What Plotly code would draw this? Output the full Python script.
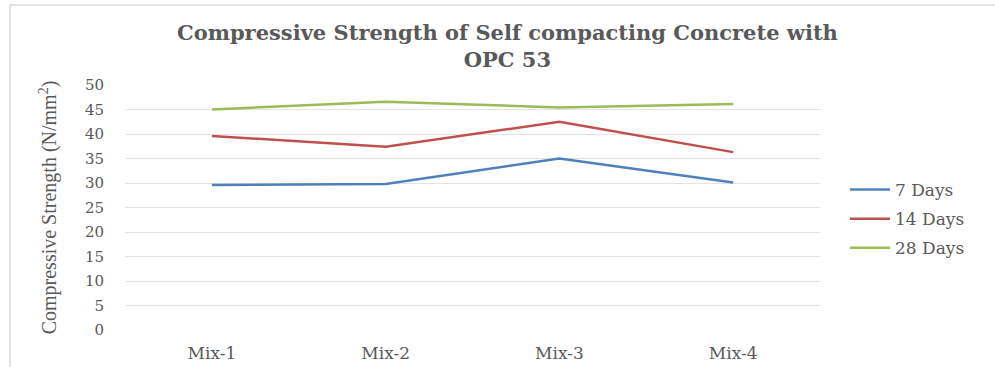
import plotly.graph_objects as go

categories = ["Mix-1", "Mix-2", "Mix-3", "Mix-4"]
days7 = [29.6, 29.8, 35.0, 30.1]
days14 = [39.6, 37.4, 42.5, 36.3]
days28 = [45.0, 46.6, 45.4, 46.1]
series_names = ["7 Days", "14 Days", "28 Days"]
colors = ["#4f81bd", "#c0504d", "#9bbb59"]
y_ticks = [0, 5, 10, 15, 20, 25, 30, 35, 40, 45, 50]

WIDE = "DejaVu Serif, Liberation Serif, serif"
NARROW = "Liberation Serif, Times New Roman, serif"

fig = go.Figure()
for name, vals, col in zip(series_names, [days7, days14, days28], colors):
    fig.add_trace(go.Scatter(
        x=categories, y=vals, mode="lines", name=name, legendgroup=name,
        line=dict(color=col, width=2.5),
    ))

W, H = 995, 367
L, R, T, B = 125, 820, 85, 330
pw, ph = R - L, B - T

def px(x):
    return (x - L) / pw

def py(y):
    return (B - y) / ph

fig.update_layout(
    width=W, height=H,
    margin=dict(l=L, r=W - R, t=T, b=H - B, autoexpand=False),
    paper_bgcolor="white", plot_bgcolor="white",
    font=dict(family=WIDE, color="#595959"),
    title=dict(
        text="<b>Compressive Strength of Self compacting Concrete with<br>OPC 53</b>",
        x=0.51, xanchor="center", xref="container", y=1 - 40 / H, yanchor="middle",
        font=dict(family=WIDE, size=21, color="#595959"),
    ),
    xaxis=dict(
        type="category", range=[-0.5, 3.5], showgrid=False, zeroline=False,
        showline=False, ticks="", tickfont=dict(family=WIDE, size=17, color="#595959"),
        ticklabelstandoff=11,
    ),
    yaxis=dict(
        range=[0, 50], tickvals=y_ticks, showgrid=True, gridcolor="#e3e3e3",
        gridwidth=1, zeroline=False, showline=False, ticks="",
        tickfont=dict(family=WIDE, size=15, color="#595959"), ticklabelstandoff=20,
        title=dict(text="Compressive Strength (N/mm<sup>2</sup>)",
                   font=dict(family=NARROW, size=20, color="#595959"), standoff=22),
    ),
    legend=dict(
        x=px(845), y=py(172), xanchor="left", yanchor="top",
        font=dict(family=WIDE, size=17, color="#595959"), tracegroupgap=4,
        itemwidth=40, bgcolor="rgba(0,0,0,0)",
    ),
    shapes=[dict(
        type="rect", xref="paper", yref="paper",
        x0=px(10), x1=px(1005), y0=py(375), y1=py(5),
        line=dict(color="#d9d9d9", width=1.5), fillcolor="rgba(0,0,0,0)",
        layer="below",
    )],
)

fig.write_html("out.html")
